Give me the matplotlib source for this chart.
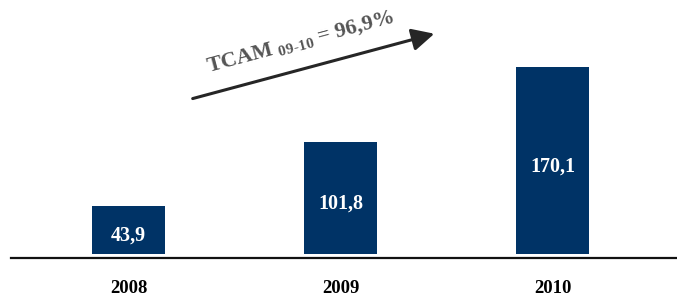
import matplotlib
matplotlib.use("Agg")
import matplotlib.pyplot as plt

years = ["2008", "2009", "2010"]
values = [43.9, 101.8, 170.1]
labels = ["43,9", "101,8", "170,1"]
cagr_label = r"TCAM $_{\mathbf{09\text{-}10}}$ = 96,9%"

plt.rcParams["mathtext.fontset"] = "custom"
plt.rcParams["mathtext.bf"] = "Liberation Serif:bold"
plt.rcParams["mathtext.rm"] = "Liberation Serif:bold"

W, H = 677, 297
fig = plt.figure(figsize=(W / 100, H / 100), dpi=100)
# axes: left at x=11px, bottom line at y=258px from top
ax = fig.add_axes([11 / W, (H - 258) / H, (W - 11) / W, 223.6 / H])
ax.set_xlim(-(128.5 - 11) / 212, (677 - 128.5) / 212)
ax.set_ylim(-3.3, 200)

x = list(range(len(years)))
ax.bar(x, values, width=73 / 212, color="#003366", zorder=2)

for i, v in enumerate(values):
    ax.text(i, v / 2 - 9.5, labels[i], ha="center", va="baseline", color="white",
            fontsize=14.5, fontweight="bold", family="Liberation Serif")
    ax.text(i, -35.5, years[i], ha="center", va="baseline", color="black",
            fontsize=13.5, fontweight="bold", family="Liberation Serif", clip_on=False)

for s in ["top", "right", "left"]:
    ax.spines[s].set_visible(False)
ax.spines["bottom"].set_linewidth(1.6)
ax.spines["bottom"].set_color("#111111")
ax.set_xticks([])
ax.set_yticks([])

# growth arrow and label (figure pixel coords, y up)
fig.patches.append(matplotlib.patches.FancyArrowPatch(
    (190 / W, (H - 99.3) / H), (437 / W, (H - 33) / H), transform=fig.transFigure,
    arrowstyle="-|>,head_length=9,head_width=4.5", mutation_scale=1.5,
    color="#262626", lw=2.2))
fig.text(209 / W, (H - 73) / H, cagr_label, rotation=15, rotation_mode="anchor",
         ha="left", va="baseline", color="#555555", fontsize=15.8,
         fontweight="bold", family="Liberation Serif")

fig.savefig("out.png", dpi=100)
